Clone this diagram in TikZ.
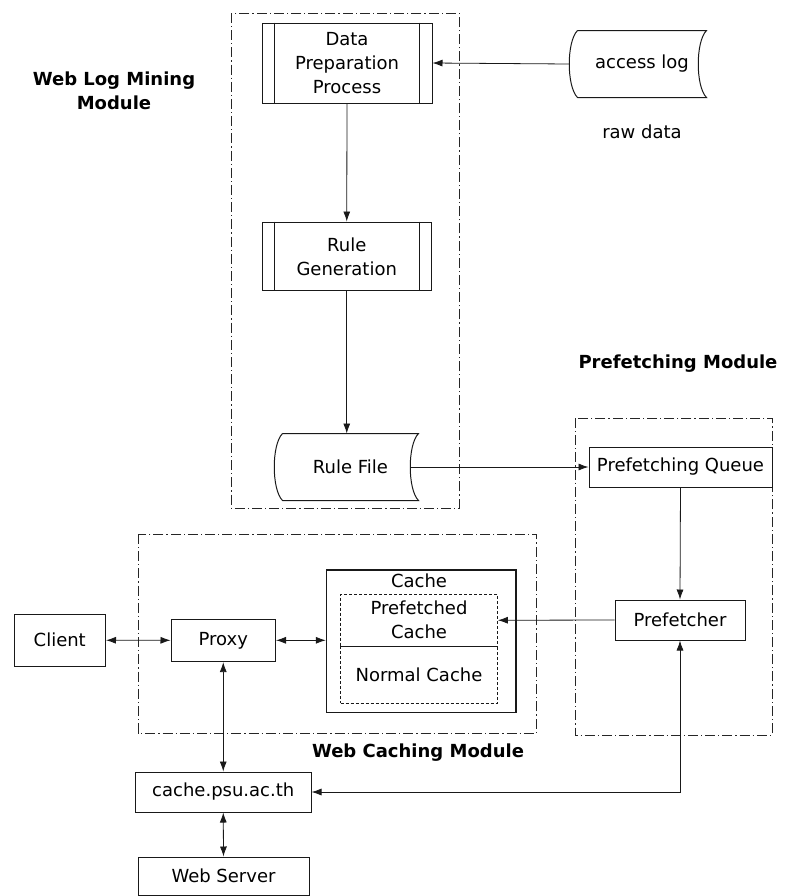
\documentclass[tikz,border=0pt]{standalone}
\usepackage{fontspec}
\setmainfont{DejaVu Sans}
\usepackage{tikz}
\usetikzlibrary{arrows.meta}
\newcommand{\sidebars}[1]{\draw ([xshift=6.5pt]#1.north west) -- ([xshift=6.5pt]#1.south west) ([xshift=-6.5pt]#1.north east) -- ([xshift=-6.5pt]#1.south east);}
\newcommand{\storeshape}[1]{\draw (#1.north west) -- (#1.north east) .. controls +(-11,11) and +(-11,-11) .. (#1.south east) -- (#1.south west) .. controls +(-11,-11) and +(-11,11) .. (#1.north west);}

\begin{document}
\begin{tikzpicture}[x=0.5pt, y=-0.5pt, line width=0.5pt, draw=black!90, >={Latex[length=5pt,width=3.5pt]},
    every node/.style={font=\fontsize{9}{12}\selectfont, inner sep=0pt, align=center},
    plainbox/.style={draw, minimum width=#1},
    dashbox/.style={draw, dash pattern=on 1.5pt off 1pt, line width=0.4pt, minimum width=78.5pt},
    modframe/.style={draw=black!85, line width=0.5pt, dash pattern=on 5pt off 1.5pt on 0.6pt off 1.5pt},
    modtitle/.style={font=\fontsize{9}{12}\selectfont\bfseries}]
    \useasboundingbox (0,0) rectangle (786,896);

    \draw[modframe] (231,13) rectangle (459,508);
    \draw[modframe] (575,418) rectangle (772,735);
    \draw[modframe] (138,534) rectangle (536.5,733);

    \node[modtitle] (wlmtitle) at (114,91) {Web Log Mining\\Module};
    \node[modtitle] (pftitle) at (678,364) {Prefetching Module};
    \node[modtitle] (wctitle) at (418,753) {Web Caching Module};

    \node[plainbox=85pt, minimum height=40pt] (dpp) at (347,63) {Data\\Preparation\\Process};
    \sidebars{dpp}
    \node[plainbox=84.75pt, minimum height=34.3pt] (rulegen) at (346.75,256.3) {Rule\\Generation};
    \sidebars{rulegen}
    \node[minimum width=67.5pt, minimum height=33pt] (rulefile) at (350.5,467) {Rule File};
    \storeshape{rulefile}
    \node[minimum width=64pt, minimum height=33pt] (acclog) at (642,64) {access log};
    \storeshape{acclog}
    \node (rawdata) at (642,132) {raw data};

    \node[plainbox=91.5pt, minimum height=20pt] (pqueue) at (680.5,467) {Prefetching Queue};
    \node[plainbox=65pt, minimum height=20pt] (prefetcher) at (680,620) {Prefetcher};

    \node[plainbox=94.75pt, minimum height=71.35pt, line width=0.7pt] (cachebox) at (421.25,641.4) {};
    \node (cachelbl) at (419,581) {Cache};
    \node[dashbox, minimum height=26.25pt] (prefcache) at (419,620.25) {Prefetched\\Cache};
    \node[dashbox, minimum height=28.25pt] (normcache) at (419,674.75) {Normal Cache};

    \node[plainbox=52.25pt, minimum height=21.3pt] (proxy) at (223.25,640.3) {Proxy};
    \node[plainbox=45.75pt, minimum height=26.25pt] (client) at (59.75,640.25) {Client};
    \node[plainbox=87.75pt, minimum height=20pt] (cachepsu) at (223.25,792) {cache.psu.ac.th};
    \node[plainbox=85.5pt, minimum height=19pt] (webserver) at (223.5,876) {Web Server};

    \draw[->, line width=0.4pt] ([xshift=-4pt]acclog.west) -- (dpp.east);
    \draw[->, line width=0.4pt] (dpp.south) -- (rulegen.north);
    \draw[->, line width=0.4pt] (rulegen.south) -- (rulegen.south |- rulefile.north);
    \draw[->, line width=0.4pt] ([xshift=-4pt]rulefile.east) -- (pqueue.west);
    \draw[->, line width=0.4pt] (pqueue.south) -- (prefetcher.north);
    \draw[->, line width=0.4pt] (prefetcher.west) -- (prefcache.east);
    \draw[<->, line width=0.4pt] (client.east) -- (proxy.west);
    \draw[<->, line width=0.4pt] (proxy.east) -- (proxy.east -| cachebox.west);
    \draw[<->, line width=0.4pt] (proxy.south) -- (cachepsu.north);
    \draw[<->, line width=0.4pt] (cachepsu.south) -- (webserver.north);
    \draw[<->, line width=0.4pt] (prefetcher.south) |- (cachepsu.east);
\end{tikzpicture}
\end{document}
